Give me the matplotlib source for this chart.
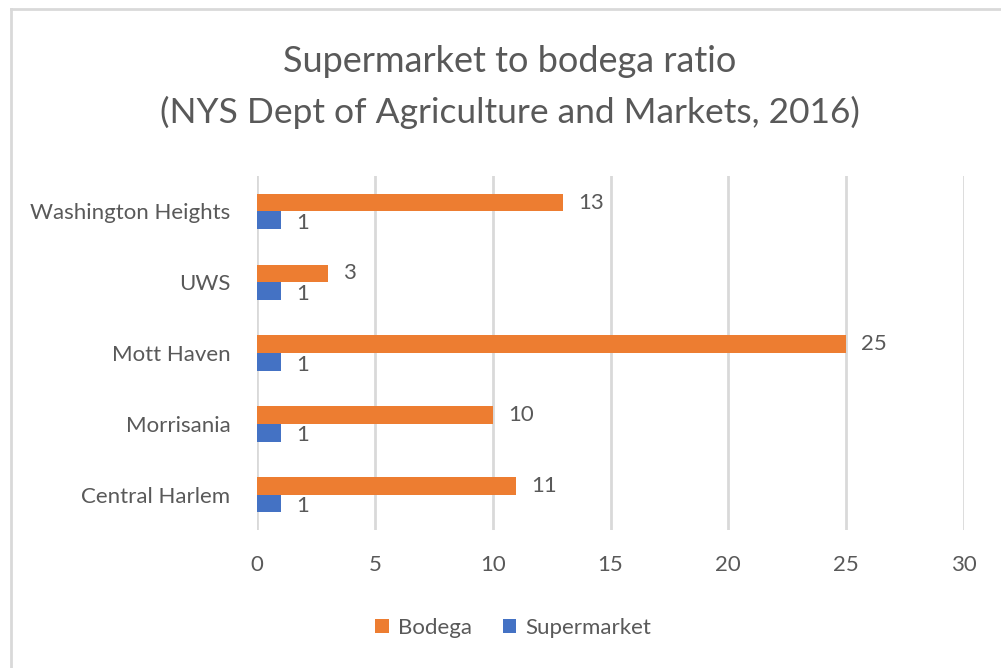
import matplotlib
matplotlib.use("Agg")
import matplotlib.pyplot as plt
from matplotlib.lines import Line2D
import numpy as np

categories = ["Central Harlem", "Morrisania", "Mott Haven", "UWS", "Washington Heights"]
bodega = [11, 10, 25, 3, 13]
supermarket = [1, 1, 1, 1, 1]
xticks = [0, 5, 10, 15, 20, 25, 30]

plt.rcParams['font.family'] = ['Lato', 'DejaVu Sans']
TXT = "#595959"
ORANGE = "#ED7D31"
BLUE = "#4472C4"

fig = plt.figure(figsize=(10.01, 6.68), dpi=100)
ax = fig.add_axes([257/1001, 1-530/668, (964-257)/1001, (530-176)/668])

y = np.arange(len(categories))
h = 0.25
ax.barh(y + h/2, bodega, height=h, color=ORANGE, label="Bodega", zorder=3)
ax.barh(y - h/2, supermarket, height=h, color=BLUE, label="Supermarket", zorder=3)

for yi, v in zip(y, bodega):
    ax.annotate(str(v), (v, yi + h/2), xytext=(11, 0), textcoords="offset points",
                va="center", ha="left", fontsize=16, color=TXT)
for yi, v in zip(y, supermarket):
    ax.annotate(str(v), (v, yi - h/2), xytext=(11, -2), textcoords="offset points",
                va="center", ha="left", fontsize=16, color=TXT)

ax.set_xlim(0, 30)
ax.set_ylim(-0.5, len(categories) - 0.5)
ax.set_xticks(xticks)
ax.set_xticklabels([str(t) for t in xticks])
ax.set_yticks(y)
ax.set_yticklabels(categories)
ax.tick_params(axis="both", length=0, labelsize=16, labelcolor=TXT)
ax.tick_params(axis="x", pad=18)
ax.tick_params(axis="y", pad=19)
for s in ax.spines.values():
    s.set_visible(False)
ax.grid(axis="x", color="#d9d9d9", linewidth=2, zorder=0)
ax.set_axisbelow(True)

fig.text(510/1001, 1-62/668, "Supermarket to bodega ratio", ha="center", va="center",
         fontsize=26, color=TXT)
fig.text(510/1001, 1-112/668, "(NYS Dept of Agriculture and Markets, 2016)", ha="center", va="center",
         fontsize=25.5, color=TXT)

fig.legend(loc="center", bbox_to_anchor=(513/1001, 1-628/668), ncol=2, frameon=False,
           fontsize=16, labelcolor=TXT, handlelength=0.6, handleheight=0.6,
           handletextpad=0.4, columnspacing=1.4)

fig.add_artist(Line2D([11/1001, 11/1001], [0, 1-9/668], transform=fig.transFigure,
                      color="#d9d9d9", linewidth=2))
fig.add_artist(Line2D([11/1001, 1], [1-9/668, 1-9/668], transform=fig.transFigure,
                      color="#d9d9d9", linewidth=2))

fig.savefig("out.png", dpi=100)
